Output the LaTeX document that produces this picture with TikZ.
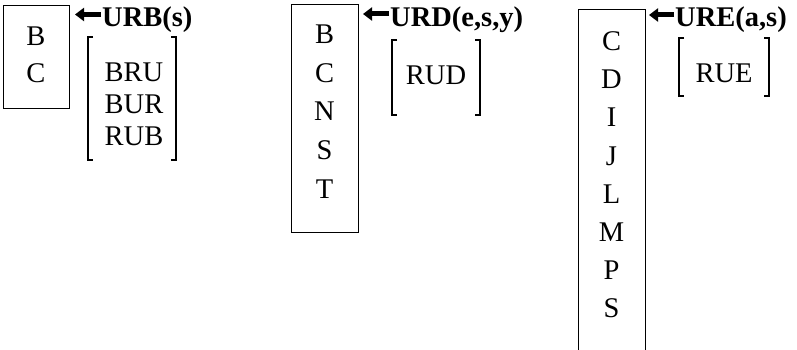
\documentclass[tikz,border=0pt]{standalone}
\usepackage{fontspec}
\setmainfont{Liberation Serif}
\usetikzlibrary{arrows.meta,calc}
\begin{document}
\begin{tikzpicture}[x=1pt,y=-1pt,
  txt/.style={inner sep=0pt,anchor=base,font=\fontsize{28.5}{33}\selectfont},
  lab/.style={inner sep=0pt,anchor=base west,font=\fontsize{28.5}{33}\selectfont\bfseries},
  boxed/.style={draw,line width=1pt,inner sep=0pt},
  brk/.style={line width=1.2pt},
  fatarrow/.style={line width=5pt,-{Triangle[length=9pt,width=13pt]}}]
\useasboundingbox (0,0) rectangle (797,350);
\clip (0,0) rectangle (797,350);
% ---- group 1
\node[boxed,minimum width=66pt,minimum height=103pt] (box1) at (36,57.5) {};
\node[txt] (b1a) at (36,45.5) {B};
\node[txt] (b1b) at (36,83) {C};
\node[lab] (l1) at (102,27) {URB(s)};
\coordinate (t1) at (75,14.5);
\draw[fatarrow] (l1.west |- t1) ++(-1,0) -- (t1);
\draw[brk] (93,37) -- (88,37) -- (88,160) -- (93,160);
\draw[brk] (171,37) -- (176,37) -- (176,160) -- (171,160);
\node[txt] (r1a) at (134,82) {BRU};
\node[txt] (r1b) at (134,113.5) {BUR};
\node[txt] (r1c) at (134,145) {RUB};
% ---- group 2
\node[boxed,minimum width=67pt,minimum height=227pt] (box2) at (324.5,118.5) {};
\node[txt] at (324.5,44) {B};
\node[txt] at (324.5,82.5) {C};
\node[txt] at (324.5,121) {N};
\node[txt] at (324.5,159.5) {S};
\node[txt] at (324.5,198) {T};
\node[lab] (l2) at (390,27) {URD(e,s,y)};
\coordinate (t2) at (363,14);
\draw[fatarrow] (l2.west |- t2) ++(-1,0) -- (t2);
\draw[brk] (397,40) -- (392,40) -- (392,115) -- (397,115);
\draw[brk] (475,40) -- (480,40) -- (480,115) -- (475,115);
\node[txt] (r2) at (436,85) {RUD};
% ---- group 3
\coordinate (bx3a) at (578,360);
\coordinate (bx3b) at (578,10);
\coordinate (bx3c) at (645,10);
\coordinate (bx3d) at (645,360);
\draw[line width=1pt] (bx3a) -- (bx3b) -- (bx3c) -- (bx3d);
\foreach \t [count=\i from 0] in {C,D,I,J,L,M,P,S}
  \node[txt] at (611.5,51+38*\i) {\t};
\node[lab] (l3) at (675,27) {URE(a,s)};
\coordinate (t3) at (649,15);
\draw[fatarrow] (l3.west |- t3) ++(-1,0) -- (t3);
\draw[brk] (684,38) -- (679,38) -- (679,96) -- (684,96);
\draw[brk] (764,38) -- (769,38) -- (769,96) -- (764,96);
\node[txt] (r3) at (724,83) {RUE};
\end{tikzpicture}
\end{document}
